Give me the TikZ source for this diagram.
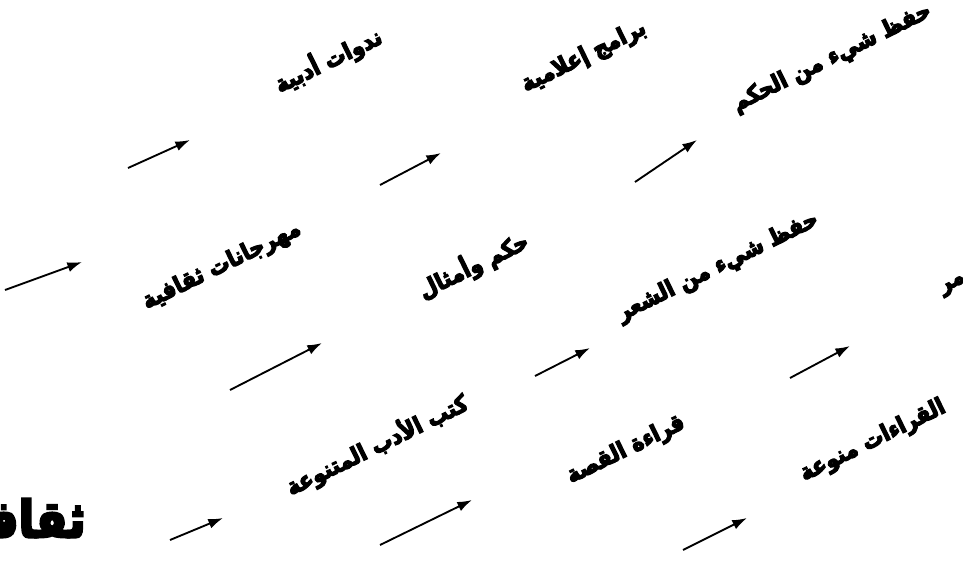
\documentclass[tikz,border=0pt]{standalone}
\usepackage{fontspec}
\usetikzlibrary{arrows.meta}
\TeXXeTstate=1
\newfontfamily\arabicfont[Script=Arabic,FakeBold=5,FakeStretch=0.9]{DejaVu Sans Bold}
\newcommand{\artxt}[1]{{\arabicfont\beginR #1\endR}}

\tikzset{
  lbl/.style={font=\fontsize{17.5}{20}\selectfont, rotate=26, inner sep=0pt},
  arr/.style={-{Latex[length=11pt,width=7.5pt]}, line width=1.4pt}
}

\begin{document}
\begin{tikzpicture}[x=0.75pt,y=-0.75pt]
        \useasboundingbox (0,0) rectangle (963,568);
        % top row
        \node[lbl] (nadawat) at (328,60) {\artxt{ندوات أدبية}};
        \node[lbl] (baramij) at (584,57) {\artxt{برامج إعلامية}};
        \node[lbl] (hikam) at (832,58) {\artxt{حفظ شيء من الحكم}};
        % middle row
        \node[lbl] (mahrajanat) at (222,266) {\artxt{مهرجانات ثقافية}};
        \node[lbl] (amthal) at (473,265) {\artxt{حكم وأمثال}};
        \node[lbl] (shiir) at (718,267) {\artxt{حفظ شيء من الشعر}};
        \node[lbl,anchor=west] (mr) at (942,292) {\artxt{مر}};
        % bottom row
        \node[lbl] (kutub) at (377,445) {\artxt{كتب الأدب المتنوعة}};
        \node[lbl] (qissa) at (626,450) {\artxt{قراءة القصة}};
        \node[lbl] (munawwaa) at (873,441) {\artxt{القراءات منوعة}};
        \node[font=\fontsize{38}{42}\selectfont,anchor=east,inner sep=0pt] (thaqafa) at (86,518) {\artxt{ثقافة}};
        % arrows
        \foreach \n/\a/\b/\c/\d in {a1/128/168/190/140, a2/380/185/441/153, a3/635/182/697/140,
            b1/5/290/82/262, b2/230/390/322/343, b3/535/376/590/348, b4/790/378/850/346,
            c1/170/540/223/518, c2/380/545/472/500, c3/683/550/747/518}{
          \coordinate (\n s) at (\a,\b);
          \coordinate (\n e) at (\c,\d);
          \draw[arr] (\n s) -- (\n e);
        }
      \end{tikzpicture}
\end{document}
